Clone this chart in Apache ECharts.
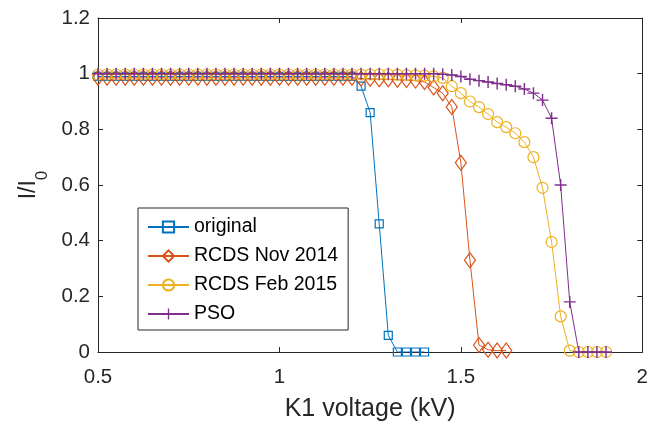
<!DOCTYPE html>
<html><head><meta charset="utf-8">
<script src="https://cdn.jsdelivr.net/npm/echarts@6/dist/echarts.min.js"></script>
<style>html,body{margin:0;padding:0;background:#fff}#c{width:651px;height:427px}</style>
</head><body><div id="c"></div>
<script>
// K1 voltage grid (kV)
const kv = [0.5,0.525,0.55,0.575,0.6,0.625,0.65,0.675,0.7,0.725,0.75,0.775,0.8,0.825,0.85,0.875,0.9,0.925,0.95,0.975,
  1.0,1.025,1.05,1.075,1.1,1.125,1.15,1.175,1.2,1.225,1.25,1.275,1.3,1.325,1.35,1.375,1.4,1.425,1.45,1.475,
  1.5,1.525,1.55,1.575,1.6,1.625,1.65,1.675,1.7,1.725,1.75,1.775,1.8,1.825,1.85,1.875,1.9];
// original (0.5 .. 1.4)
const original = [0.99,0.99,0.99,0.99,0.99,0.99,0.99,0.99,0.99,0.99,0.99,0.99,0.99,0.99,0.99,0.99,0.99,0.99,0.99,0.99,
  0.99,0.99,0.99,0.99,0.99,0.99,0.99,0.99,0.99,0.955,0.86,0.46,0.06,0.0,0.0,0.0,0.0];
// RCDS Nov 2014 (0.5 .. 1.625)
const rcdsNov = [0.985,0.985,0.985,0.985,0.985,0.985,0.985,0.985,0.985,0.985,0.985,0.985,0.985,0.985,0.985,0.985,0.985,0.985,0.985,0.985,
  0.985,0.985,0.985,0.985,0.985,0.985,0.985,0.985,0.985,0.983,0.982,0.98,0.98,0.978,0.977,0.975,0.97,0.95,0.93,0.88,
  0.68,0.33,0.025,0.008,0.005,0.005];
// RCDS Feb 2015 (0.5 .. 1.9)
const rcdsFeb = [0.997,0.997,0.997,0.997,0.997,0.997,0.997,0.997,0.997,0.997,0.997,0.997,0.997,0.997,0.997,0.997,0.997,0.997,0.997,0.997,
  0.997,0.997,0.997,0.997,0.997,0.997,0.997,0.997,0.997,0.997,0.997,0.997,0.997,0.996,0.995,0.994,0.993,0.99,0.985,0.955,
  0.93,0.90,0.88,0.855,0.826,0.808,0.786,0.754,0.70,0.59,0.395,0.128,0.005,0.0,0.0,0.0,0.0];
// PSO (0.5 .. 1.9)
const pso = [1.0,1.0,1.0,1.0,1.0,1.0,1.0,1.0,1.0,1.0,1.0,1.0,1.0,1.0,1.0,1.0,1.0,1.0,1.0,1.0,
  1.0,1.0,1.0,1.0,1.0,1.0,1.0,1.0,1.0,1.0,1.0,1.0,1.0,1.0,1.0,1.0,1.0,1.0,0.998,0.995,
  0.99,0.98,0.975,0.97,0.965,0.96,0.955,0.945,0.93,0.905,0.84,0.60,0.18,0.0,0.0,0.0,0.0];
const seriesNames = ['original','RCDS Nov 2014','RCDS Feb 2015','PSO'];
const xTicks = {min:0.5, max:2, interval:0.5};
const yTicks = {min:0, max:1.2, interval:0.2};

const colors = ['#0072BD','#D95319','#EDB120','#7E2F8E'];
const FONT = 'Liberation Sans, Arial, Helvetica, sans-serif';
const plusPath = 'path://M4.4,0 L5.6,0 L5.6,4.4 L10,4.4 L10,5.6 L5.6,5.6 L5.6,10 L4.4,10 L4.4,5.6 L0,5.6 L0,4.4 L4.4,4.4 Z';
const pair = vals => vals.map((v,i)=>[kv[i], v]);
const axisCol = '#262626';

function mkSeries(name, vals, color, symbol, size, hollow){
  return {
    name, type:'line', data: pair(vals), symbol, symbolSize:size,
    showAllSymbol:true, silent:true,
    lineStyle:{color, width:1},
    itemStyle: hollow ? {color:'rgba(0,0,0,0)', borderColor:color, borderWidth:1.2}
                      : {color, borderColor:color, borderWidth:0},
    emphasis:{disabled:true}
  };
}
const baseX = {type:'value', min:xTicks.min, max:xTicks.max, interval:xTicks.interval, splitLine:{show:false},
  axisLine:{show:true, onZero:false, lineStyle:{color:axisCol, width:1}},
  axisTick:{show:true, inside:true, length:5, lineStyle:{color:axisCol}}};
const baseY = {type:'value', min:yTicks.min, max:yTicks.max, interval:yTicks.interval, splitLine:{show:false},
  axisLine:{show:true, onZero:false, lineStyle:{color:axisCol, width:1}},
  axisTick:{show:true, inside:true, length:5, lineStyle:{color:axisCol}}};

const chart = echarts.init(document.getElementById('c'), null, {renderer:'canvas'});
chart.setOption({
  animation:false,
  backgroundColor:'#fff',
  grid:{left:98, right:6, top:18, bottom:73, containLabel:false},
  xAxis:[
    Object.assign({}, baseX, {position:'bottom',
      axisLabel:{fontSize:20.5, color:axisCol, margin:15, fontFamily:FONT},
      name:'K1 voltage (kV)', nameLocation:'middle', nameGap:45,
      nameTextStyle:{fontSize:25, color:axisCol, fontFamily:FONT}}),
    Object.assign({}, baseX, {position:'top', axisLabel:{show:false}})
  ],
  yAxis:[
    Object.assign({}, baseY, {position:'left',
      axisLabel:{fontSize:20.5, color:axisCol, margin:8, fontFamily:FONT},
      name:'{a|I/I}{b|0}', nameLocation:'middle', nameGap:40, nameRotate:90,
      nameTextStyle:{color:axisCol, fontFamily:FONT, rich:{
        a:{fontSize:23, color:axisCol, fontFamily:FONT, verticalAlign:'bottom', padding:[0,0,10,0]},
        b:{fontSize:17, color:axisCol, fontFamily:FONT, verticalAlign:'bottom'}}}}),
    Object.assign({}, baseY, {position:'right', axisLabel:{show:false}})
  ],
  legend:{
    show:true, orient:'vertical', left:138, top:208,
    padding:[9,10,6,9], itemGap:9, itemWidth:41, itemHeight:14,
    backgroundColor:'#fff', borderColor:axisCol, borderWidth:1,
    textStyle:{fontSize:19.5, color:'#000', fontFamily:FONT},
    data:seriesNames
  },
  series:[
    mkSeries(seriesNames[0], original, colors[0], 'rect', 8, true),
    mkSeries(seriesNames[1], rcdsNov, colors[1], 'diamond', [11,15], true),
    mkSeries(seriesNames[2], rcdsFeb, colors[2], 'circle', 11, true),
    mkSeries(seriesNames[3], pso, colors[3], plusPath, 12, false)
  ]
});
</script>
</body></html>
